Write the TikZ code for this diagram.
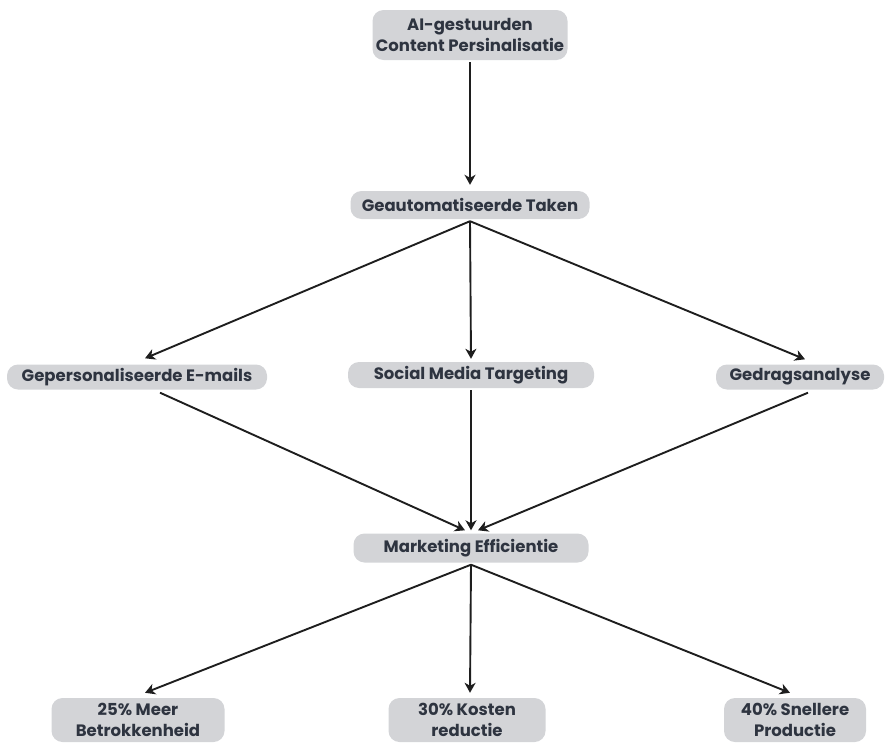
\documentclass[tikz,border=0pt]{standalone}
\usepackage{fontspec}
\setmainfont{Poppins}
\usetikzlibrary{arrows.meta}
\definecolor{boxfill}{HTML}{D3D4D7}
\definecolor{txt}{HTML}{2E3440}
\definecolor{arr}{HTML}{1E1E1E}
\begin{document}
\begin{tikzpicture}[x=1pt,y=-1pt,
  box/.style={fill=boxfill, rounded corners=11pt, text=txt, font=\bfseries\fontsize{16.5}{21}\selectfont, align=center, inner sep=0pt},
  conn/.style={-{Stealth[length=10pt,width=11pt,inset=3pt]}, line width=1.9pt, draw=arr}]
\useasboundingbox (0,0) rectangle (886,744);
\node[box, minimum width=195pt, minimum height=50pt] (top) at (470,35) {AI-gestuurden\\Content Persinalisatie};
\node[box, minimum width=239pt, minimum height=28pt] (taken) at (470,205) {Geautomatiseerde Taken};
\node[box, minimum width=260pt, minimum height=25pt] (mail) at (137,377) {Gepersonaliseerde E-mails};
\node[box, minimum width=246pt, minimum height=26pt] (social) at (471,375) {Social Media Targeting};
\node[box, minimum width=168pt, minimum height=25pt] (gedrag) at (800,377) {Gedragsanalyse};
\node[box, minimum width=235pt, minimum height=29pt] (mark) at (471,548) {Marketing Efficientie};
\node[box, minimum width=173pt, minimum height=44pt] (r1) at (138,720) {25\% Meer\\Betrokkenheid};
\node[box, minimum width=157pt, minimum height=44pt] (r2) at (467,720) {30\% Kosten\\reductie};
\node[box, minimum width=142pt, minimum height=44pt] (r3) at (795,720) {40\% Snellere\\Productie};
\draw[conn] ([yshift=-2pt]top.south) -- ([yshift=6pt]taken.north);
\draw[conn] ([yshift=-2pt]taken.south) -- ([xshift=8pt,yshift=6pt]mail.north);
\draw[conn] ([yshift=-2pt]taken.south) -- ([yshift=3pt]social.north);
\draw[conn] ([yshift=-2pt]taken.south) -- ([xshift=5pt,yshift=5pt]gedrag.north);
\draw[conn] ([xshift=23pt,yshift=-3pt]mail.south) -- ([xshift=-6pt,yshift=3pt]mark.north);
\draw[conn] ([yshift=-2pt]social.south) -- ([yshift=3pt]mark.north);
\draw[conn] ([xshift=8pt,yshift=-3pt]gedrag.south) -- ([xshift=7pt,yshift=3pt]mark.north);
\draw[conn] ([yshift=-2pt]mark.south) -- ([xshift=7pt,yshift=5pt]r1.north);
\draw[conn] ([yshift=-2pt]mark.south) -- ([xshift=3pt,yshift=5pt]r2.north);
\draw[conn] ([yshift=-2pt]mark.south) -- ([xshift=-5pt,yshift=5pt]r3.north);
\end{tikzpicture}
\end{document}
